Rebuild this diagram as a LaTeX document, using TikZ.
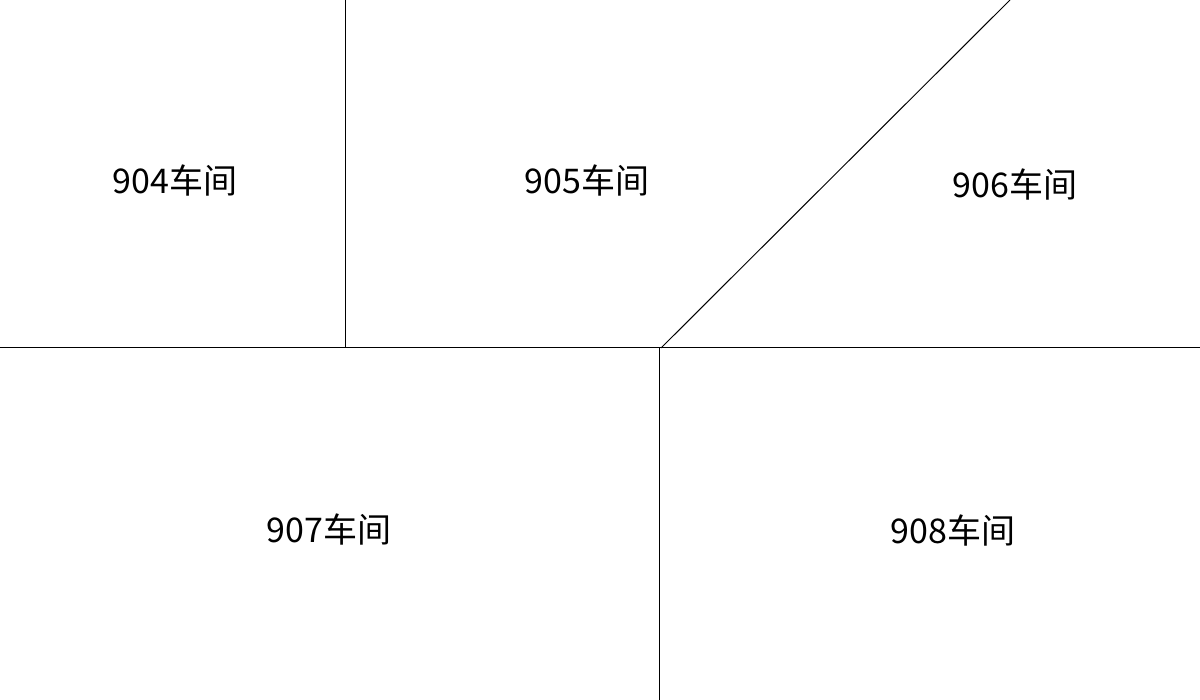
\documentclass[tikz,border=0pt]{standalone}
\usepackage{fontspec}
\newfontfamily\cjk{Noto Sans CJK SC}
\begin{document}
\begin{tikzpicture}[x=1pt,y=-1pt,
  wall/.style={draw=black,line width=1pt},
  lbl/.style={font=\cjk\fontsize{34}{40}\selectfont,inner sep=0pt}]
\useasboundingbox (0,0) rectangle (1200,700);
\fill[white] (0,0) rectangle (1200,700);
\coordinate (L) at (0,348);
\coordinate (R) at (1200,348);
\coordinate (M) at (659,348);
\coordinate (T1) at (345,0);
\coordinate (J1) at (345,348);
\coordinate (D0) at (661,348);
\coordinate (D1) at (1010,0);
\coordinate (B) at (659,700);
\draw[wall] (L) -- (R);
\draw[wall] (T1) -- (J1);
\draw[wall] (D0) -- (D1);
\draw[wall] (M) -- (B);
\node[lbl] (n904) at (175,180) {904车间};
\node[lbl] (n905) at (587,180) {905车间};
\node[lbl] (n906) at (1015,184) {906车间};
\node[lbl] (n907) at (329,529) {907车间};
\node[lbl] (n908) at (953,530) {908车间};
\end{tikzpicture}
\end{document}
